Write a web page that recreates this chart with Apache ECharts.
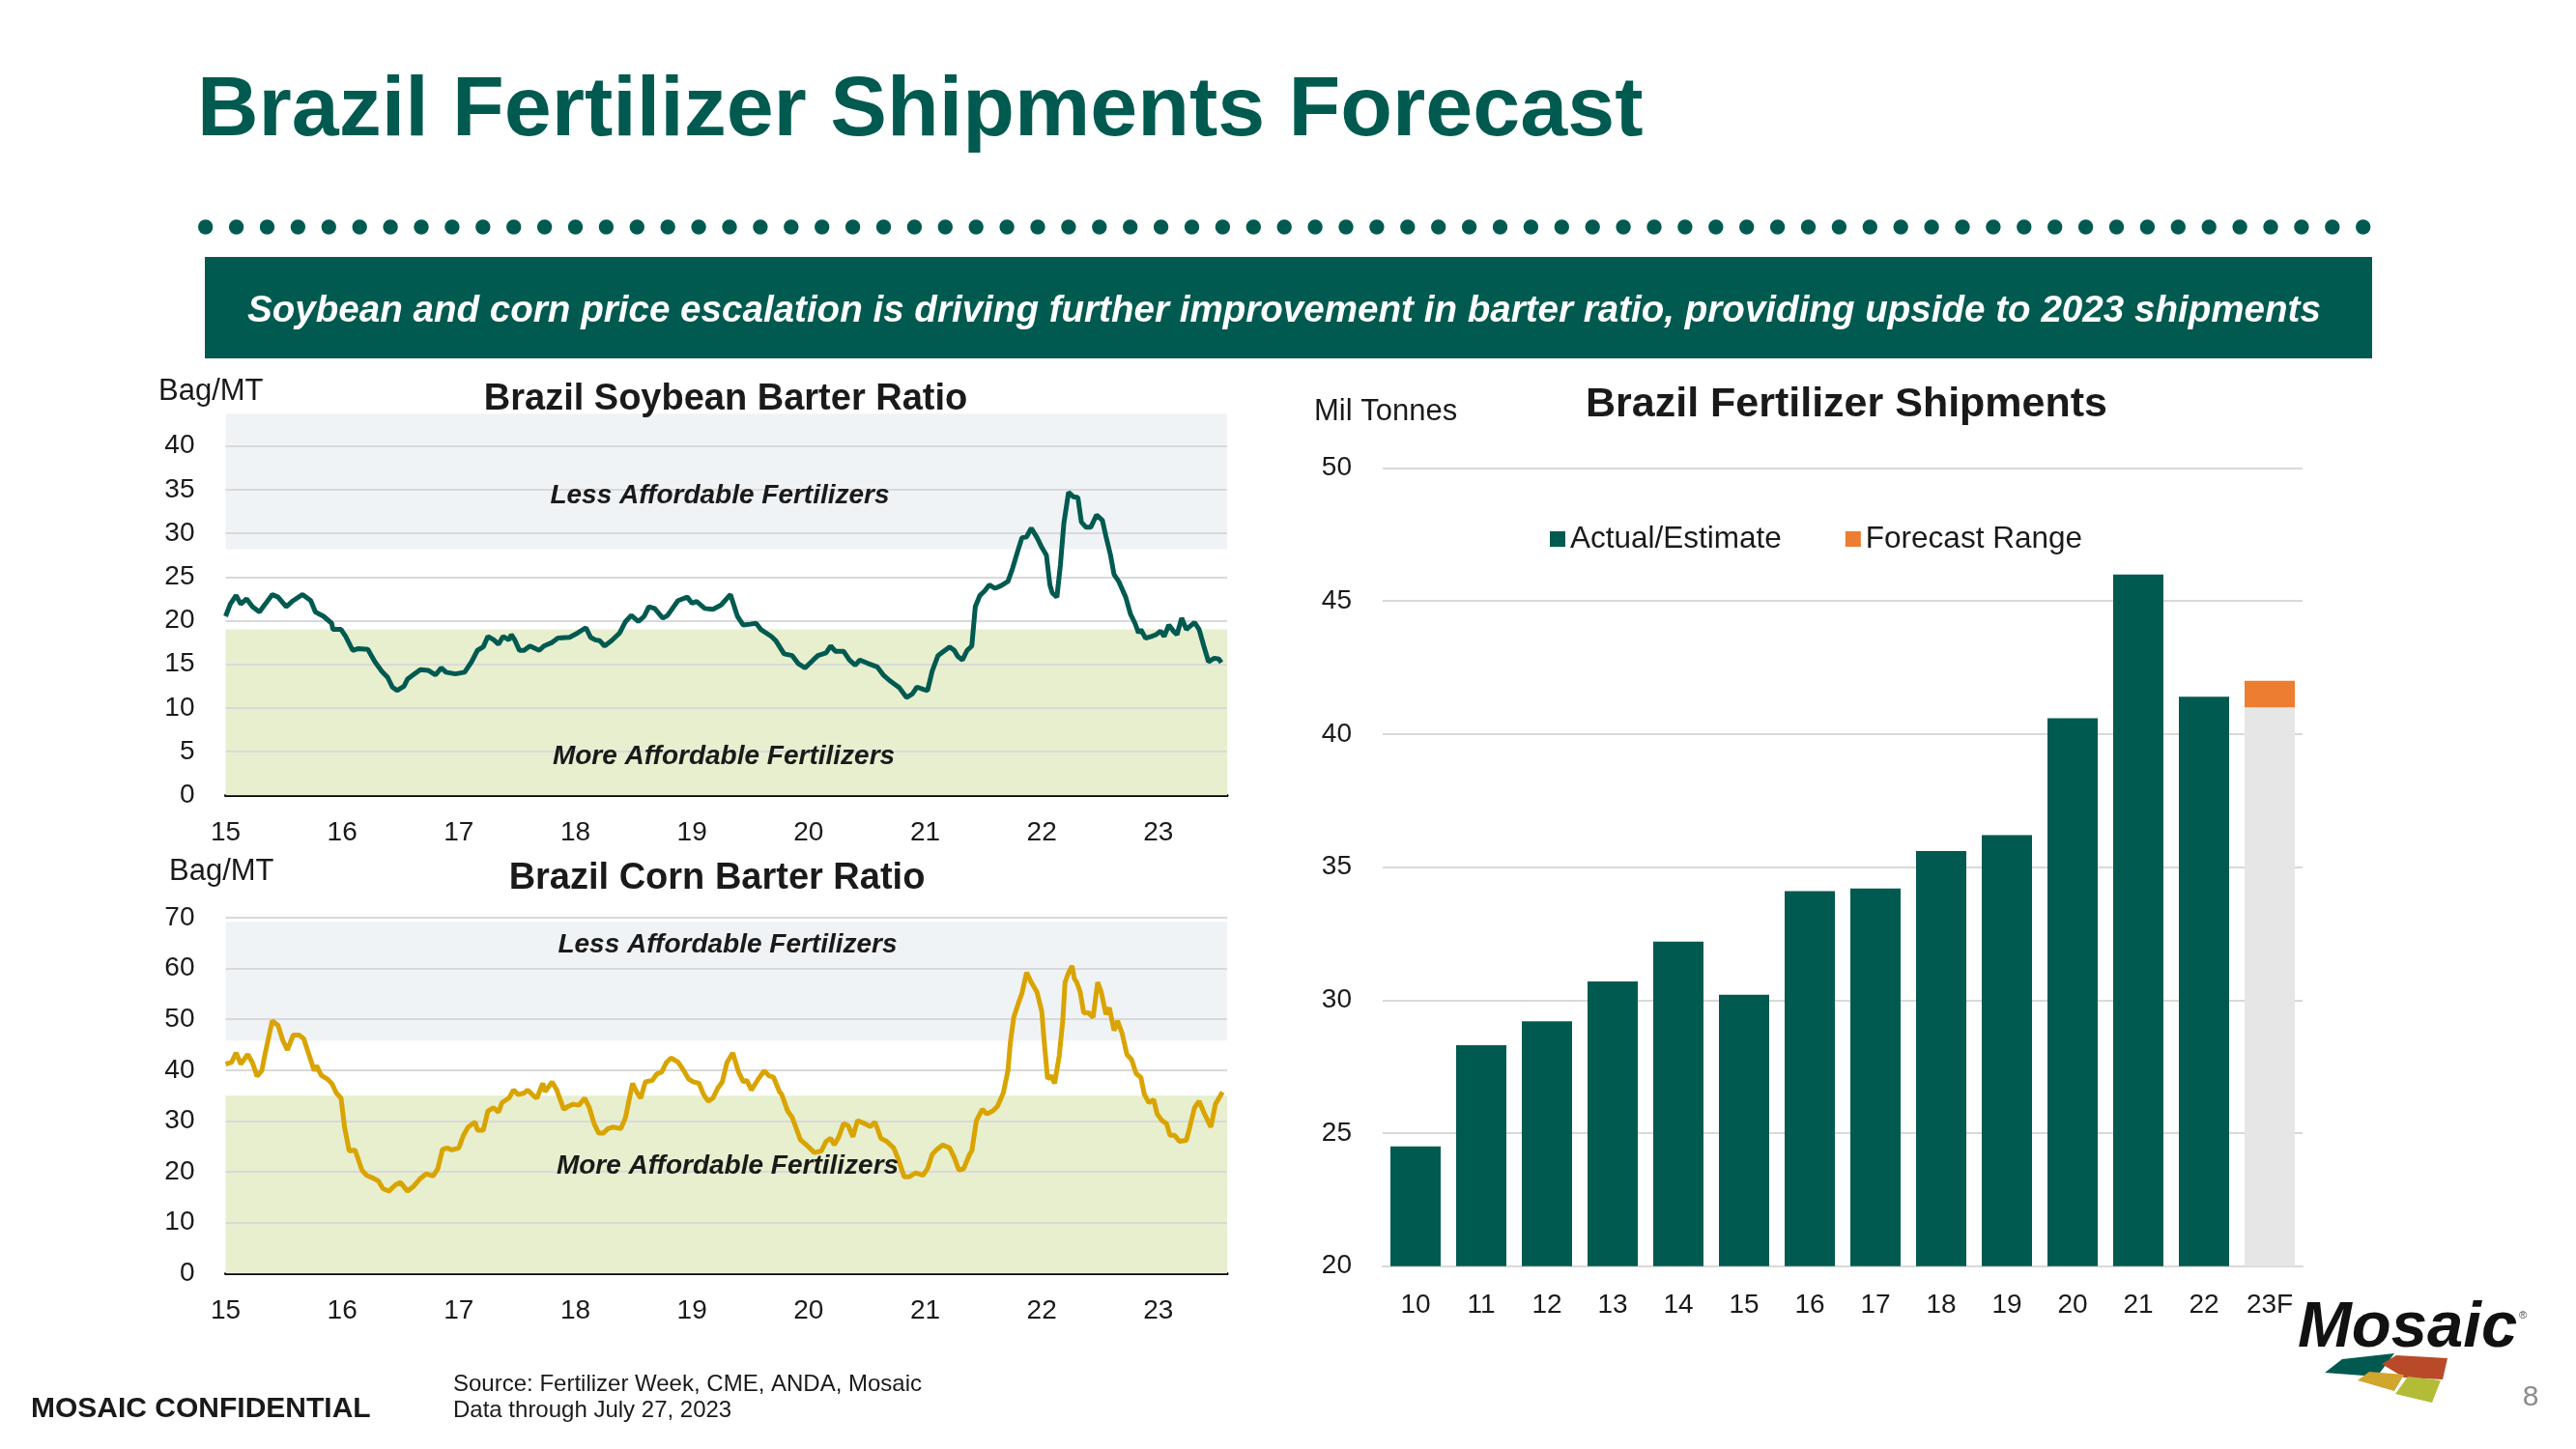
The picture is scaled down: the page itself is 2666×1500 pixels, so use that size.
<!DOCTYPE html>
<html><head><meta charset="utf-8">
<script src="https://cdn.jsdelivr.net/npm/echarts@6/dist/echarts.min.js"></script>
<style>html,body{margin:0;padding:0;background:#fff;}#c{width:2666px;height:1500px;}</style>
</head><body><div id="c"></div>
<script>
// ---------------- DATA ----------------
const soyYears = [15.00,15.04,15.09,15.13,15.18,15.23,15.29,15.34,15.40,15.45,15.52,15.58,15.66,15.73,15.77,15.84,15.91,15.92,15.99,
16.03,16.09,16.14,16.22,16.28,16.34,16.39,16.43,16.47,16.53,16.56,16.61,16.67,16.74,16.80,16.85,16.89,16.97,
17.05,17.11,17.16,17.21,17.25,17.30,17.34,17.38,17.43,17.45,17.48,17.52,17.56,17.61,17.69,17.73,17.80,17.85,17.95,
18.02,18.09,18.13,18.17,18.21,18.25,18.31,18.38,18.43,18.48,18.54,18.59,18.63,18.68,18.75,18.79,18.88,18.96,
19.00,19.04,19.11,19.18,19.25,19.33,19.39,19.44,19.50,19.55,19.59,19.68,19.72,19.79,19.86,19.91,19.97,
20.04,20.08,20.15,20.19,20.23,20.30,20.35,20.40,20.44,20.51,20.59,20.64,20.69,20.74,20.78,20.84,20.89,20.93,20.99,
21.02,21.06,21.11,21.15,21.21,21.25,21.28,21.32,21.36,21.40,21.43,21.47,21.51,21.55,21.60,21.65,21.71,21.75,21.79,21.83,21.87,21.91,21.96,
22.00,22.04,22.07,22.09,22.13,22.16,22.19,22.23,22.27,22.31,22.34,22.38,22.42,22.47,22.52,22.55,22.59,22.62,22.66,22.72,22.76,22.80,22.83,22.85,22.89,22.94,22.98,
23.02,23.05,23.09,23.13,23.16,23.20,23.24,23.31,23.35,23.39,23.43,23.48,23.52,23.54];
const soyValues = [20.5,21.9,22.9,21.9,22.5,21.6,21.0,21.9,23.0,22.7,21.6,22.3,23.0,22.3,21.0,20.5,19.7,19.0,19.0,
18.2,16.6,16.8,16.7,15.3,14.2,13.5,12.4,12.0,12.5,13.3,13.8,14.4,14.3,13.8,14.6,14.1,13.9,
14.1,15.3,16.6,17.0,18.2,17.8,17.3,18.2,17.8,18.4,17.8,16.6,16.6,17.1,16.6,17.1,17.5,18.0,18.1,
18.6,19.2,18.1,17.8,17.7,17.1,17.7,18.6,19.9,20.6,19.9,20.5,21.6,21.4,20.3,20.6,22.3,22.7,
22.0,22.2,21.4,21.3,21.8,23.0,20.5,19.5,19.6,19.7,19.0,18.2,17.7,16.2,16.0,15.1,14.6,
15.5,16.0,16.3,17.1,16.5,16.5,15.5,14.9,15.5,15.1,14.7,13.8,13.2,12.7,12.3,11.2,11.6,12.4,12.1,
12.0,14.2,16.0,16.4,17.0,16.6,15.9,15.5,16.6,17.1,21.6,22.9,23.4,24.1,23.7,24.0,24.5,26.0,27.8,29.5,29.6,30.6,29.5,
28.4,27.5,24.1,23.2,22.7,26.4,31.2,34.7,34.2,34.1,31.3,30.7,30.7,32.1,31.5,29.7,27.5,25.3,24.5,22.7,20.8,19.7,18.6,19.0,18.0,18.2,18.4,
18.8,18.2,19.5,18.8,18.4,20.3,19.0,19.8,19.0,17.1,15.3,15.7,15.6,15.2];

const cornYears = [15.00,15.05,15.09,15.13,15.19,15.23,15.27,15.31,15.34,15.40,15.45,15.49,15.53,15.58,15.63,15.67,15.71,15.76,15.78,15.82,15.87,15.91,15.95,15.99,
16.02,16.06,16.11,16.17,16.21,16.27,16.31,16.35,16.40,16.46,16.50,16.56,16.61,16.67,16.72,16.78,16.82,16.86,16.90,16.94,
17.00,17.04,17.08,17.14,17.16,17.21,17.25,17.30,17.34,17.37,17.43,17.47,17.51,17.56,17.59,17.65,17.67,17.72,17.74,17.80,17.84,17.90,17.94,17.98,
18.03,18.08,18.12,18.16,18.20,18.24,18.28,18.32,18.39,18.43,18.49,18.53,18.56,18.60,18.66,18.70,18.74,18.78,18.82,18.88,18.93,18.97,
19.01,19.06,19.10,19.14,19.18,19.22,19.26,19.30,19.35,19.40,19.44,19.47,19.51,19.57,19.62,19.66,19.70,19.75,19.77,19.82,19.86,19.93,19.98,
20.05,20.11,20.15,20.19,20.22,20.26,20.30,20.34,20.38,20.42,20.48,20.53,20.57,20.62,20.67,20.73,20.77,20.82,20.86,20.92,20.98,
21.02,21.06,21.10,21.15,21.21,21.25,21.29,21.33,21.38,21.40,21.44,21.49,21.53,21.58,21.62,21.67,21.71,21.73,21.76,21.80,21.83,21.87,21.91,21.96,
22.00,22.02,22.05,22.08,22.11,22.15,22.18,22.20,22.23,22.26,22.28,22.30,22.33,22.36,22.40,22.44,22.48,22.51,22.55,22.58,22.62,22.65,22.69,22.73,22.77,22.81,22.85,22.88,22.92,22.96,22.99,
23.03,23.07,23.10,23.14,23.18,23.24,23.27,23.31,23.35,23.39,23.45,23.49,23.55];
const cornValues = [41.2,41.5,43.4,41.2,43.1,41.5,38.8,39.9,43.4,49.7,48.8,45.9,44.0,46.9,46.9,46.2,43.4,39.9,40.9,39.0,38.3,37.4,35.5,34.5,
28.8,24.1,24.3,20.3,19.3,18.7,18.2,16.7,16.2,17.5,17.9,16.2,17.1,18.7,19.6,19.2,20.6,24.4,24.7,24.3,
24.7,27.2,28.8,29.8,28.2,28.2,32.0,32.6,31.7,33.6,34.5,36.1,35.2,35.5,36.1,34.8,34.5,37.4,35.8,37.7,36.1,32.3,32.9,33.3,
33.1,34.5,32.6,29.5,27.6,27.6,28.5,28.8,28.5,30.7,37.4,35.5,34.5,37.7,38.0,39.3,39.6,41.5,42.4,41.6,39.9,38.3,
37.7,37.4,35.2,33.9,34.5,36.4,37.7,41.5,43.4,39.6,37.7,38.0,36.1,38.3,39.9,38.9,38.6,35.8,35.2,32.0,30.7,26.3,25.3,
23.8,24.1,26.0,26.6,25.3,26.9,29.5,29.1,26.9,30.1,29.5,28.9,29.8,26.6,26.0,24.7,22.5,19.0,19.0,19.8,19.3,
20.6,23.4,24.4,25.3,24.7,22.8,20.3,20.6,23.4,24.1,30.1,32.3,31.4,32.0,32.9,35.5,39.9,45.3,50.4,53.2,55.1,59.2,57.3,55.3,
51.6,45.9,38.3,38.9,37.4,42.8,49.7,57.3,59.2,60.5,58.0,57.3,55.4,51.3,51.3,50.4,57.3,55.4,51.0,52.3,47.8,49.7,47.2,43.1,42.1,39.3,38.6,35.2,33.6,34.2,31.4,
30.1,29.5,27.2,27.2,26.0,26.2,28.8,32.6,33.9,31.7,28.8,33.3,35.7];

const soyMoreBand = [0, 19];
const soyLessBand = [28.2, 43.7];
const cornMoreBand = [0, 35];
const cornLessBand = [45.8, 69.2];
const soyGridValues = [5, 10, 15, 20, 25, 30, 35, 40];
const cornGridValues = [10, 20, 30, 40, 50, 60, 70];

const shipCategories = ['10','11','12','13','14','15','16','17','18','19','20','21','22','23F'];
const shipActual = [24.5, 28.3, 29.2, 30.7, 32.2, 30.2, 34.1, 34.2, 35.6, 36.2, 40.6, 46.0, 41.4, null];
const shipForecastLow = [null,null,null,null,null,null,null,null,null,null,null,null,null, 41.0];
const shipForecastRange = [null,null,null,null,null,null,null,null,null,null,null,null,null, 1.0];

// ---------------- STYLE ----------------
const FONT = '"Liberation Sans", Arial, Helvetica, sans-serif';
const TEAL = '#005a50';
const GOLD = '#d9a400';
const GRIDC = '#d9d9d9';
const TXT = '#1a1a1a';

const chart = echarts.init(document.getElementById('c'), null, {renderer: 'canvas', width: 2666, height: 1500});

function zip(xs, ys) { return xs.map((x, i) => [x, ys[i]]); }
function bandSeries(xi, more, less) {
  return {
    type: 'line', xAxisIndex: xi, yAxisIndex: xi, data: [], silent: true, z: 1,
    markArea: { silent: true, label: {show: false},
      data: [
        [{yAxis: more[0], itemStyle: {color: '#e7efcf'}}, {yAxis: more[1]}],
        [{yAxis: less[0], itemStyle: {color: '#f0f3f6'}}, {yAxis: less[1]}]
      ] }
  };
}
function gridSeries(xi, vals) {
  return {
    type: 'line', xAxisIndex: xi, yAxisIndex: xi, data: [], silent: true, z: 2,
    markLine: { silent: true, symbol: ['none', 'none'], label: {show: false},
      lineStyle: {color: GRIDC, width: 2, type: 'solid'},
      data: vals.map(v => ({yAxis: v})) }
  };
}
const yearAxis = (gi) => ({
  type: 'value', gridIndex: gi, min: 15, max: 23.59, interval: 1,
  axisLine: {show: true, onZero: false, lineStyle: {color: '#000', width: 3}},
  axisTick: {show: false}, splitLine: {show: false},
  axisLabel: {fontSize: 28, color: TXT, fontFamily: FONT, margin: 25,
    formatter: v => (Math.abs(v - Math.round(v)) < 1e-6 ? String(Math.round(v)) : '')}
});

// decorative graphics
const graphics = [];
graphics.push({type: 'text', x: 204, y: 116, style: {text: 'Brazil Fertilizer Shipments Forecast', font: 'bold 88px ' + FONT, fill: TEAL, align: 'left', verticalAlign: 'middle'}});
for (let i = 0; i < 71; i++) {
  graphics.push({type: 'circle', shape: {cx: 212.7 + i * 31.9, cy: 235, r: 7.7}, style: {fill: TEAL}});
}
graphics.push({type: 'rect', shape: {x: 212, y: 266, width: 2243, height: 105}, style: {fill: TEAL}});
graphics.push({type: 'text', x: 256, y: 322, style: {text: 'Soybean and corn price escalation is driving further improvement in barter ratio, providing upside to 2023 shipments', font: 'italic bold 38.6px ' + FONT, fill: '#fff', align: 'left', verticalAlign: 'middle'}});

function txt(t, x, y, font, align, fill) {
  graphics.push({type: 'text', x: x, y: y, z: 10, style: {text: t, font: font + ' ' + FONT, fill: fill || TXT, align: align || 'left', verticalAlign: 'middle'}});
}
txt('Bag/MT', 164, 405, '31px');
txt('Brazil Soybean Barter Ratio', 751, 414, 'bold 38px', 'center');
txt('Less Affordable Fertilizers', 745, 513, 'italic bold 28px', 'center');
txt('More Affordable Fertilizers', 749, 783, 'italic bold 28px', 'center');
txt('Bag/MT', 175, 902, '31px');
txt('Brazil Corn Barter Ratio', 742, 910, 'bold 38px', 'center');
txt('Less Affordable Fertilizers', 753, 978, 'italic bold 28px', 'center');
txt('More Affordable Fertilizers', 753, 1207, 'italic bold 28px', 'center');
txt('Mil Tonnes', 1360, 426, '31px');
txt('Brazil Fertilizer Shipments', 1911, 419, 'bold 43px', 'center');
txt('Source: Fertilizer Week, CME, ANDA, Mosaic', 469, 1433, '24px');
txt('Data through July 27, 2023', 469, 1460, '24px');
txt('MOSAIC CONFIDENTIAL', 32, 1459, 'bold 30px');
txt('8', 2619, 1447, '30px', 'center', '#8c8c8c');
// logo
txt('Mosaic', 2378, 1376, 'italic bold 67px', 'left', '#111');
txt('®', 2607, 1362, '11px', 'left', '#444');
graphics.push({type: 'polygon', shape: {points: [[2406,1421],[2424,1407],[2478,1401],[2460,1425]]}, style: {fill: '#005a50'}});
graphics.push({type: 'polygon', shape: {points: [[2465,1412],[2480,1403],[2533,1406],[2528,1428],[2488,1426]]}, style: {fill: '#b84a2a'}});
graphics.push({type: 'polygon', shape: {points: [[2440,1429],[2452,1420],[2488,1423],[2478,1440]]}, style: {fill: '#d2a52e'}});
graphics.push({type: 'polygon', shape: {points: [[2479,1443],[2492,1425],[2526,1429],[2517,1452]]}, style: {fill: '#b3bc36'}});

const option = {
  backgroundColor: '#fff',
  animation: false,
  textStyle: {fontFamily: FONT},
  grid: [
    {left: 233.5, top: 428.3, width: 1036.5, height: 395},
    {left: 233.5, top: 950, width: 1036.5, height: 368.3},
    {left: 1431, top: 484.5, width: 952, height: 826.2}
  ],
  legend: {
    data: ['Actual/Estimate', 'Forecast Range'], left: 1599, top: 537,
    itemWidth: 16, itemHeight: 16, itemGap: 66, icon: 'rect',
    textStyle: {fontSize: 31.5, color: TXT, fontFamily: FONT}
  },
  xAxis: [
    yearAxis(0),
    yearAxis(1),
    {type: 'category', gridIndex: 2, data: shipCategories,
      axisLine: {show: true, lineStyle: {color: GRIDC, width: 2}}, axisTick: {show: false},
      axisLabel: {fontSize: 28, color: TXT, fontFamily: FONT, margin: 27}}
  ],
  yAxis: [
    {type: 'value', gridIndex: 0, min: 0, max: 43.7, interval: 5,
      axisLine: {show: false}, axisTick: {show: false}, splitLine: {show: false},
      axisLabel: {fontSize: 28, color: TXT, fontFamily: FONT, margin: 32,
        formatter: v => (v <= 40 && Math.abs(v % 5) < 1e-6 ? String(v) : '')}},
    {type: 'value', gridIndex: 1, min: 0, max: 70, interval: 10,
      axisLine: {show: false}, axisTick: {show: false}, splitLine: {show: false},
      axisLabel: {fontSize: 28, color: TXT, fontFamily: FONT, margin: 32}},
    {type: 'value', gridIndex: 2, min: 20, max: 50, interval: 5,
      axisLine: {show: false}, axisTick: {show: false},
      splitLine: {show: true, lineStyle: {color: GRIDC, width: 2}},
      axisLabel: {fontSize: 28, color: TXT, fontFamily: FONT, margin: 32}}
  ],
  series: [
    bandSeries(0, soyMoreBand, soyLessBand),
    gridSeries(0, soyGridValues),
    {name: 'Soybean', type: 'line', xAxisIndex: 0, yAxisIndex: 0, z: 5, data: zip(soyYears, soyValues),
      showSymbol: false, symbol: 'none', lineStyle: {color: TEAL, width: 5}, itemStyle: {color: TEAL}},
    bandSeries(1, cornMoreBand, cornLessBand),
    gridSeries(1, cornGridValues),
    {name: 'Corn', type: 'line', xAxisIndex: 1, yAxisIndex: 1, z: 5, data: zip(cornYears, cornValues),
      showSymbol: false, symbol: 'none', lineStyle: {color: GOLD, width: 5}, itemStyle: {color: GOLD}},
    {name: 'Actual/Estimate', type: 'bar', xAxisIndex: 2, yAxisIndex: 2, data: shipActual,
      barWidth: 52, barGap: '-100%', itemStyle: {color: TEAL}},
    {name: 'Forecast Low', type: 'bar', xAxisIndex: 2, yAxisIndex: 2, stack: 'fc', data: shipForecastLow,
      barWidth: 52, barGap: '-100%', itemStyle: {color: '#e6e6e6'}},
    {name: 'Forecast Range', type: 'bar', xAxisIndex: 2, yAxisIndex: 2, stack: 'fc', data: shipForecastRange,
      barWidth: 52, barGap: '-100%', itemStyle: {color: '#ed7d31'}}
  ],
  graphic: graphics
};
chart.setOption(option);
</script></body></html>
